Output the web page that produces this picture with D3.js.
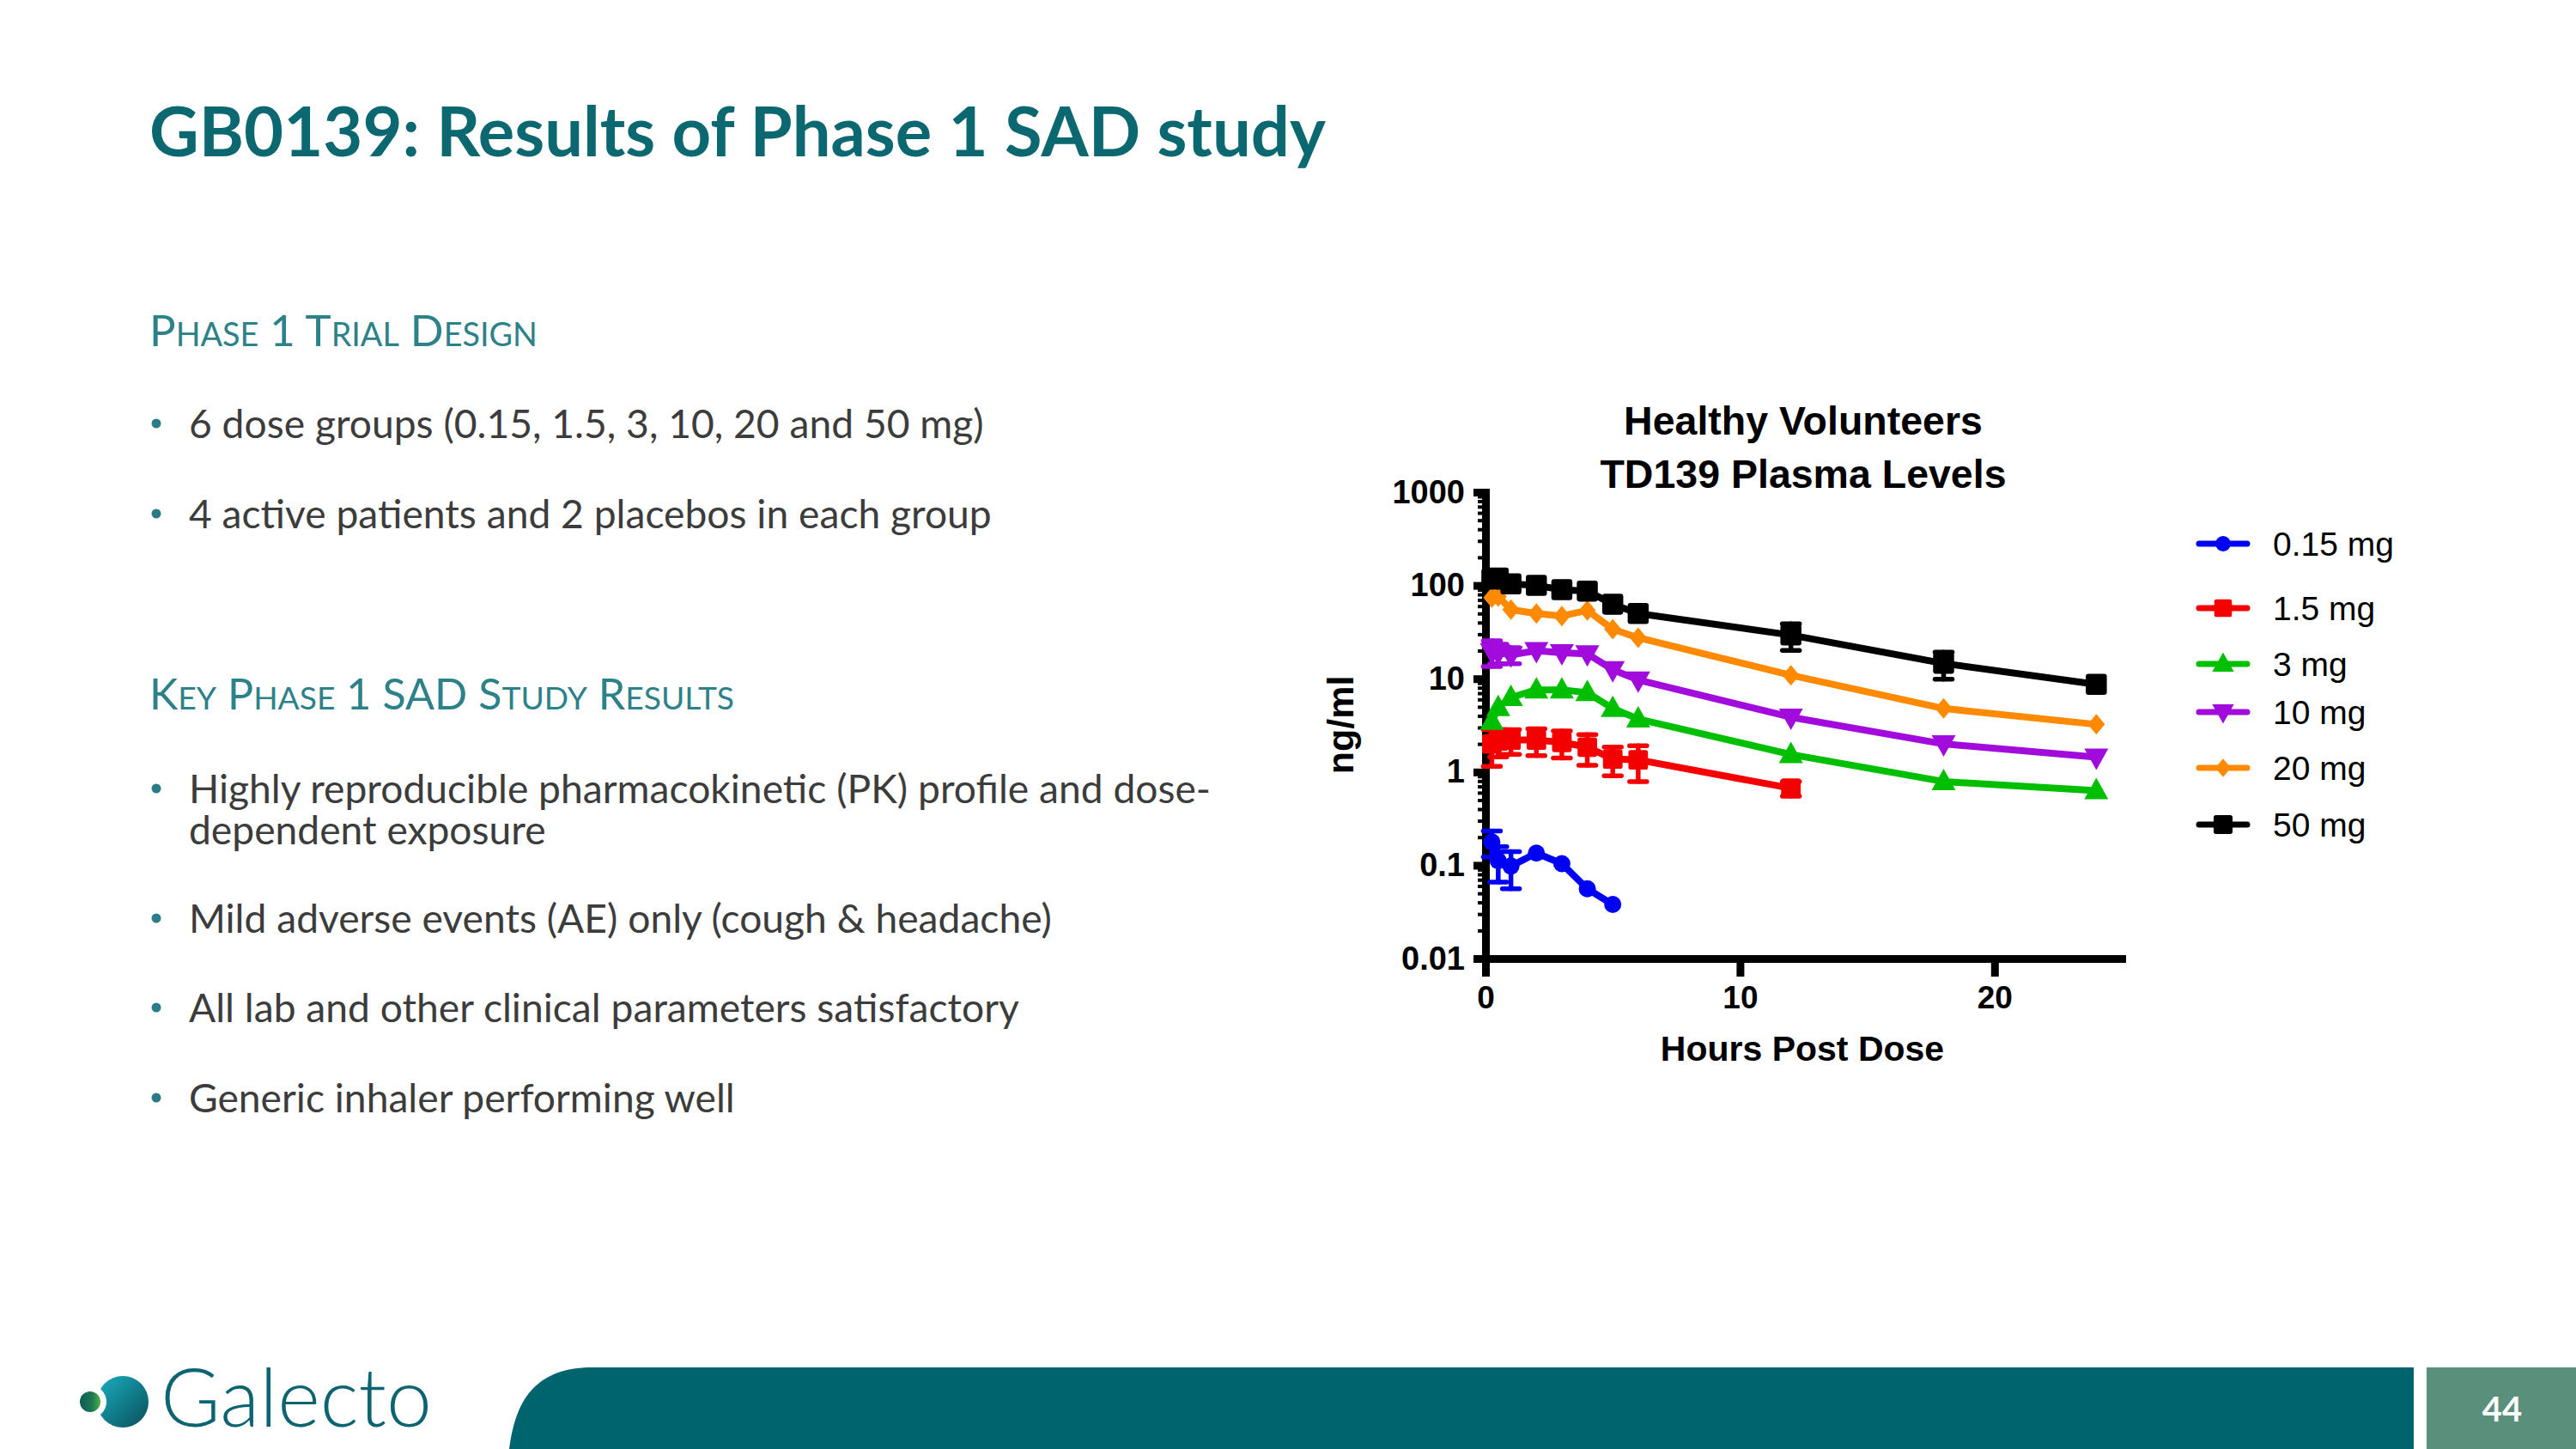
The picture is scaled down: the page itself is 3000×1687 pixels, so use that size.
<!DOCTYPE html>
<html><head><meta charset="utf-8">
<script src="https://cdn.jsdelivr.net/npm/d3@7"></script>
<style>html,body{margin:0;padding:0;background:#fff;} svg{display:block}</style>
</head><body>
<svg id="chart" width="3000" height="1687"></svg>
<script>
// ---------------- DATA ----------------
const times = [0.25, 0.5, 1, 2, 3, 4, 5, 6, 12, 18, 24];
const doseLabels = ["0.15 mg", "1.5 mg", "3 mg", "10 mg", "20 mg", "50 mg"];
const dose015 = [0.178, 0.112, 0.098, 0.135, 0.104, 0.056, 0.038];
const sem015  = [0.055, 0.046, 0.042, 0, 0, 0, 0];
const dose15  = [2.0, 2.15, 2.2, 2.2, 2.08, 1.85, 1.38, 1.35, 0.67];
const sem15   = [0.85, 0.7, 0.65, 0.7, 0.67, 0.67, 0.47, 0.56, 0.12];
const dose3   = [3.5, 4.9, 6.3, 7.6, 7.6, 7.1, 4.8, 3.7, 1.54, 0.79, 0.63];
const sem3    = [0, 0, 0, 0, 0, 0, 0, 0, 0, 0, 0];
const dose10  = [19.5, 19, 18, 20, 19, 18.5, 12.5, 9.7, 3.87, 2.0, 1.44];
const sem10   = [6, 4.5, 3.5, 0, 0, 0, 0, 0, 0, 0, 0];
const dose20  = [74, 76, 55, 50, 47, 54, 34, 27.5, 10.9, 4.8, 3.24];
const sem20   = [0, 0, 0, 0, 0, 0, 0, 0, 0, 0, 0];
const dose50  = [117, 120, 104, 100, 90, 87, 63, 50, 29.4, 14.6, 8.7];
const sem50   = [0, 0, 0, 0, 0, 0, 0, 0, 9.3, 4.7, 0];
const yTickValues = [0.01, 0.1, 1, 10, 100, 1000];
const yTickLabels = ["0.01", "0.1", "1", "10", "100", "1000"];
const xTickValues = [0, 10, 20];
const xTickLabels = ["0", "10", "20"];

const slideTitle = "GB0139: Results of Phase 1 SAD study";
const chartTitle = ["Healthy Volunteers", "TD139 Plasma Levels"];
const xAxisTitle = "Hours Post Dose";
const yAxisTitle = "ng/ml";
const heading1 = "Phase 1 Trial Design";
const heading2 = "Key Phase 1 SAD Study Results";
const bullets1 = [["6 dose groups (0.15, 1.5, 3, 10, 20 and 50 mg)"], ["4 active patients and 2 placebos in each group"]];
const bullets2 = [["Highly reproducible pharmacokinetic (PK) profile and dose-", "dependent exposure"],
                  ["Mild adverse events (AE) only (cough & headache)"],
                  ["All lab and other clinical parameters satisfactory"],
                  ["Generic inhaler performing well"]];
const pageNumber = "44";
const logoText = "Galecto";

// ---------------- SETUP ----------------
const svg = d3.select("#chart");
svg.append("rect").attr("width", 3000).attr("height", 1687).attr("fill", "#fff");

const TEAL = "#0C6870", HEAD = "#2D8189", BODY = "#3C3C3C";
const bodyFont = "Lato, 'Open Sans', sans-serif";
const chartFont = "'Liberation Sans', Arial, sans-serif";

function fit(sel, target) {
  const w = sel.node().getComputedTextLength();
  const fs = parseFloat(sel.attr("font-size"));
  sel.attr("font-size", fs * target / w);
}

// Slide title
const t = svg.append("text").attr("x", 174).attr("y", 182).attr("fill", TEAL)
  .attr("font-family", bodyFont).attr("font-weight", 700).attr("font-size", 88).text(slideTitle);
fit(t, 1370);

// Small caps heading
function heading(text, yb, target) {
  const g = svg.append("text").attr("x", 174).attr("y", yb).attr("fill", HEAD)
    .attr("font-family", bodyFont);
  const parts = [];
  for (const ch of text) {
    const small = /[a-z]/.test(ch);
    const c = small ? ch.toUpperCase() : ch;
    if (parts.length && parts[parts.length - 1].small === small) parts[parts.length - 1].s += c;
    else parts.push({ s: c, small });
  }
  let base = 47;
  const spans = g.selectAll("tspan").data(parts).join("tspan")
    .attr("font-size", d => d.small ? base * 0.74 : base).text(d => d.s);
  const w = g.node().getComputedTextLength();
  base = base * target / w;
  spans.attr("font-size", d => d.small ? base * 0.74 : base);
}
heading(heading1, 403, 452);
heading(heading2, 826, 681);

// Bullets: determine font size from one reference line
const probe = svg.append("text").attr("font-family", bodyFont).attr("font-size", 50).text(bullets1[1][0]);
const bodySize = 50 * 935 / probe.node().getComputedTextLength();
probe.remove();

function bullet(lines, yb) {
  svg.append("circle").attr("cx", 182).attr("cy", yb - 17).attr("r", 5.5).attr("fill", "#2A7C88");
  const tx = svg.append("text").attr("y", yb).attr("fill", BODY)
    .attr("font-family", bodyFont).attr("font-size", bodySize);
  tx.selectAll("tspan").data(lines).join("tspan")
    .attr("x", 220).attr("dy", (d, i) => i === 0 ? 0 : 48).text(d => d);
}
const b1y = [510, 615];
bullets1.forEach((b, i) => bullet(b, b1y[i]));
const b2y = [935, 1086, 1190, 1295];
bullets2.forEach((b, i) => bullet(b, b2y[i]));

// ---------------- CHART ----------------
const x = d3.scaleLinear().domain([0, 25]).range([1730, 2471]);
const y = d3.scaleLog().domain([0.01, 1000]).range([1116, 573]);

// custom symbols
const sym = {
  circle: { draw(c, s) { const r = 10 * s; c.moveTo(r, 0); c.arc(0, 0, r, 0, 2 * Math.PI); } },
  square: { draw(c, s) { const h = 12 * s, r = 3 * s;
    c.moveTo(-h + r, -h); c.lineTo(h - r, -h); c.arcTo(h, -h, h, -h + r, r); c.lineTo(h, h - r);
    c.arcTo(h, h, h - r, h, r); c.lineTo(-h + r, h); c.arcTo(-h, h, -h, h - r, r);
    c.lineTo(-h, -h + r); c.arcTo(-h, -h, -h + r, -h, r); c.closePath(); } },
  up: { draw(c, s) { c.moveTo(0, -15 * s); c.lineTo(14 * s, 10 * s); c.lineTo(-14 * s, 10 * s); c.closePath(); } },
  down: { draw(c, s) { c.moveTo(0, 15 * s); c.lineTo(14 * s, -10 * s); c.lineTo(-14 * s, -10 * s); c.closePath(); } },
  diamond: { draw(c, s) { c.moveTo(0, -12 * s); c.lineTo(10 * s, 0); c.lineTo(0, 12 * s); c.lineTo(-10 * s, 0); c.closePath(); } }
};

const series = [
  { label: doseLabels[0], vals: dose015, sem: sem015, color: "#0000F5", shape: "circle", sc: 1 },
  { label: doseLabels[1], vals: dose15,  sem: sem15,  color: "#F50000", shape: "square", sc: 0.95 },
  { label: doseLabels[2], vals: dose3,   sem: sem3,   color: "#00BF00", shape: "up", sc: 1 },
  { label: doseLabels[3], vals: dose10,  sem: sem10,  color: "#A10BDB", shape: "down", sc: 1 },
  { label: doseLabels[4], vals: dose20,  sem: sem20,  color: "#FF8A00", shape: "diamond", sc: 1 },
  { label: doseLabels[5], vals: dose50,  sem: sem50,  color: "#000000", shape: "square", sc: 1.02 }
];

// Axes
const gy = svg.append("g").attr("transform", "translate(1730,0)");
gy.call(d3.axisLeft(y).tickValues(yTickValues).tickFormat((d, i) => yTickLabels[i])
  .tickSize(14).tickSizeOuter(0).tickPadding(10));
const minor = [];
[0.01, 0.1, 1, 10, 100].forEach(dec => { for (let k = 2; k <= 9; k++) minor.push(dec * k); });
const gym = svg.append("g").attr("transform", "translate(1730,0)");
gym.call(d3.axisLeft(y).tickValues(minor).tickFormat("").tickSize(9).tickSizeOuter(0));
gym.select(".domain").remove();
gym.selectAll(".tick line").attr("stroke", "#000").attr("stroke-width", 4);

const gx = svg.append("g").attr("transform", "translate(0,1116)");
gx.call(d3.axisBottom(x).tickValues(xTickValues).tickFormat((d, i) => xTickLabels[i])
  .tickSize(21).tickSizeOuter(0).tickPadding(11));

[gy, gx].forEach(g => {
  g.select(".domain").attr("stroke", "#000").attr("stroke-width", 9).attr("stroke-linecap", "square");
  g.selectAll(".tick line").attr("stroke", "#000").attr("stroke-width", 9);
  g.selectAll(".tick text").attr("fill", "#000").attr("font-family", chartFont).attr("font-weight", 700);
});
gy.selectAll(".tick text").attr("font-size", 38);
gx.selectAll(".tick text").attr("font-size", 37);

// Titles
chartTitle.forEach((ln, i) => {
  svg.append("text").attr("x", 2100).attr("y", 506 + i * 62).attr("text-anchor", "middle")
    .attr("font-family", chartFont).attr("font-weight", 700).attr("font-size", 46.5).attr("fill", "#000").text(ln);
});
svg.append("text").attr("x", 2099).attr("y", 1235).attr("text-anchor", "middle")
  .attr("font-family", chartFont).attr("font-weight", 700).attr("font-size", 41).attr("fill", "#000").text(xAxisTitle);
svg.append("text").attr("transform", "translate(1576,844) rotate(-90)").attr("text-anchor", "middle")
  .attr("font-family", chartFont).attr("font-weight", 700).attr("font-size", 43).attr("fill", "#000").text(yAxisTitle);

// Series
const line = d3.line().x(d => x(d.t)).y(d => y(d.v));
const plot = svg.append("g");
series.forEach(s => {
  const pts = s.vals.map((v, i) => ({ t: times[i], v, e: s.sem[i] }));
  const g = plot.append("g");
  g.append("path").datum(pts).attr("d", line).attr("fill", "none").attr("stroke", s.color)
    .attr("stroke-width", 8).attr("stroke-linejoin", "round").attr("stroke-linecap", "round");
  const eb = pts.filter(p => p.e > 0);
  const ebG = g.selectAll("g.eb").data(eb).join("g").attr("class", "eb")
    .attr("stroke", s.color).attr("stroke-width", 5.5).attr("stroke-linecap", "round");
  ebG.append("line").attr("x1", d => x(d.t)).attr("x2", d => x(d.t))
    .attr("y1", d => y(d.v + d.e)).attr("y2", d => y(Math.max(d.v - d.e, 0.0101)));
  ebG.append("line").attr("x1", d => x(d.t) - 10).attr("x2", d => x(d.t) + 10)
    .attr("y1", d => y(d.v + d.e)).attr("y2", d => y(d.v + d.e));
  ebG.append("line").attr("x1", d => x(d.t) - 10).attr("x2", d => x(d.t) + 10)
    .attr("y1", d => y(Math.max(d.v - d.e, 0.0101))).attr("y2", d => y(Math.max(d.v - d.e, 0.0101)));
  const symGen = d3.symbol().type(sym[s.shape]).size(s.sc);
  g.selectAll("path.pt").data(pts).join("path").attr("class", "pt")
    .attr("transform", d => `translate(${x(d.t)},${y(d.v)})`)
    .attr("d", symGen).attr("fill", s.color);
});

// Legend
const legendRows = [633, 708, 773, 829, 894, 960];
series.forEach((s, i) => {
  const g = svg.append("g").attr("transform", `translate(2589,${legendRows[i]})`);
  g.append("line").attr("x1", -28).attr("x2", 28).attr("stroke", s.color).attr("stroke-width", 7).attr("stroke-linecap", "round");
  g.append("path").attr("d", d3.symbol().type(sym[s.shape]).size(s.sc * 0.9)()).attr("fill", s.color);
  g.append("text").attr("x", 58).attr("dy", "0.35em").attr("font-family", chartFont).attr("font-size", 39)
    .attr("fill", "#000").text(s.label);
});

// ---------------- FOOTER ----------------
svg.append("path").attr("d", "M593,1687 C600,1632 622,1592 690,1592 L2811,1592 L2811,1687 Z").attr("fill", "#00646F");
svg.append("rect").attr("x", 2826).attr("y", 1592).attr("width", 174).attr("height", 95).attr("fill", "#5A8F7B");
svg.append("text").attr("x", 2914).attr("y", 1655).attr("text-anchor", "middle").attr("fill", "#fff")
  .attr("font-family", bodyFont).attr("font-weight", 700).attr("font-size", 40).text(pageNumber);

// Logo
const defs = svg.append("defs");
const lg1 = defs.append("linearGradient").attr("id", "lg1").attr("x1", 0).attr("y1", 0).attr("x2", 1).attr("y2", 1);
lg1.append("stop").attr("offset", 0).attr("stop-color", "#1AAFC0");
lg1.append("stop").attr("offset", 1).attr("stop-color", "#0A4E5A");
const lg2 = defs.append("linearGradient").attr("id", "lg2").attr("x1", 0).attr("y1", 0).attr("x2", 1).attr("y2", 0);
lg2.append("stop").attr("offset", 0).attr("stop-color", "#0D5A55");
lg2.append("stop").attr("offset", 0.6).attr("stop-color", "#1E7A55");
lg2.append("stop").attr("offset", 1).attr("stop-color", "#52B048");
svg.append("circle").attr("cx", 143).attr("cy", 1632).attr("r", 30).attr("fill", "url(#lg1)");
svg.append("circle").attr("cx", 105).attr("cy", 1632).attr("r", 19).attr("fill", "#fff");
svg.append("circle").attr("cx", 105).attr("cy", 1632).attr("r", 12).attr("fill", "url(#lg2)");
const lt = svg.append("text").attr("x", 187).attr("y", 1661).attr("fill", "#0B6470")
  .attr("font-family", bodyFont).attr("font-weight", 300).attr("font-size", 82).text(logoText);
fit(lt, 316);
</script>
</body></html>
